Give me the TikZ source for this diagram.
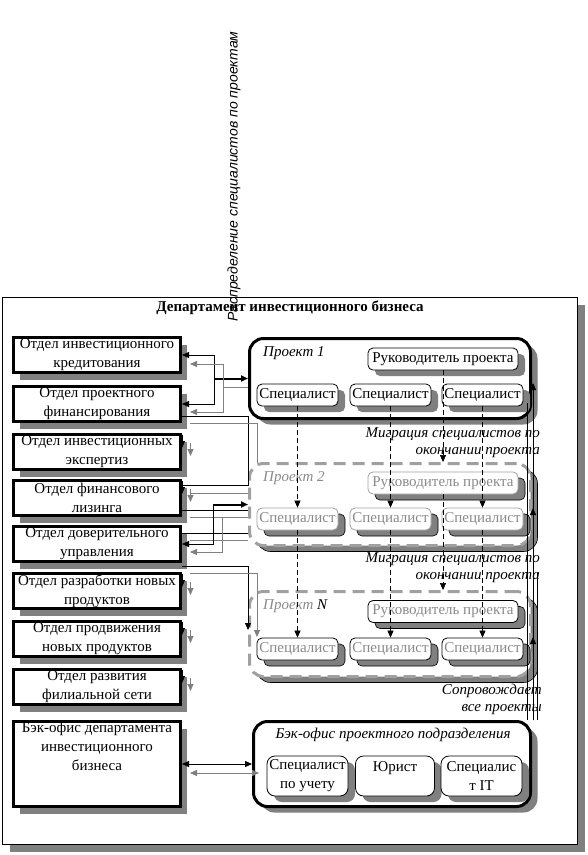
\documentclass[tikz,border=0pt]{standalone}
\usepackage{fontspec}
\setmainfont{Liberation Serif}
\newfontfamily\vsans{Liberation Sans}
\usetikzlibrary{arrows.meta,shadows}
\definecolor{shd}{HTML}{808080}
\definecolor{gln}{HTML}{808080}
\definecolor{gtx}{HTML}{8A8A8A}
\definecolor{gbd}{HTML}{A0A0A0}
\newcommand\bxf{\fontsize{15}{19}\selectfont}
\newcommand\itf{\itshape\fontsize{15}{17}\selectfont}
\newcommand\ttlf{\bfseries\fontsize{15}{18}\selectfont}
\tikzset{
  shA/.style={drop shadow={shadow xshift=6pt, shadow yshift=-7pt, fill=shd, opacity=1}},
  shB/.style={drop shadow={shadow xshift=7pt, shadow yshift=-6pt, fill=shd, draw=black, line width=0.6pt, solid, opacity=1}},
  shC/.style={drop shadow={shadow xshift=7pt, shadow yshift=-6pt, fill=shd, opacity=1}},
  lbox/.style={draw, line width=3pt, fill=white, minimum width=167pt, minimum height=35pt, align=center, font=\bxf, inner sep=0pt, shA},
  pbox/.style={draw, line width=3pt, rounded corners=14pt, fill=white, minimum width=281pt, inner sep=0pt},
  pdash/.style={pbox, draw=gbd, dash pattern=on 12pt off 7pt},
  ibox/.style={draw, line width=0.8pt, rounded corners=5pt, fill=white, font=\bxf, inner sep=0pt, minimum height=22pt, minimum width=81pt},
  blk/.style={draw=black, line width=0.8pt},
  gry/.style={draw=gln, line width=0.8pt},
  thk/.style={draw=black, line width=2pt},
  mig/.style={draw=black, line width=0.7pt, dash pattern=on 5pt off 3pt},
}
\begin{document}
\begin{tikzpicture}[x=1pt,y=-1pt,>={Triangle[length=7pt,width=6pt]}]
\useasboundingbox (0,0) rectangle (588,855);
\node[draw, line width=0.8pt, fill=white, minimum width=575pt, minimum height=547pt, drop shadow={shadow xshift=7pt, shadow yshift=-7pt, fill=shd, opacity=1}] (outer) at (290,571) {};
\node[rotate=90, anchor=west, inner sep=0pt, font=\vsans\itshape\fontsize{14}{16}\selectfont] (vt) at (234,322) {Распределение специалистов по проектам};
\node[font=\ttlf, inner sep=0pt] (ttl) at (290,308) {Департамент инвестиционного бизнеса};

% left column
\node[lbox] (b1) at (97,355) {Отдел инвестиционного\\кредитования};
\node[lbox] (b2) at (97,404) {Отдел проектного\\финансирования};
\node[lbox] (b3) at (97,452) {Отдел инвестиционных\\экспертиз};
\node[lbox] (b4) at (97,498) {Отдел финансового\\лизинга};
\node[lbox] (b5) at (97,544) {Отдел доверительного\\управления};
\node[lbox] (b6) at (97,591) {Отдел разработки новых\\продуктов};
\node[lbox] (b7) at (97,639) {Отдел продвижения\\новых продуктов};
\node[lbox] (b8) at (97,687) {Отдел развития\\филиальной сети};
\node[lbox, minimum height=85pt] (b9) at (97,764) {};
\node[font=\bxf, align=center, anchor=north, inner sep=0pt] (b9t) at (97,722) {Бэк-офис департамента\\инвестиционного\\бизнеса};

% projects
\node[pbox, minimum height=80pt, shC] (p1) at (390,378.5) {};
\node[pdash, minimum height=82pt, shB] (p2) at (390,504.5) {};
\node[pdash, minimum height=85pt, shB] (pN) at (390,634) {};
\node[pbox, minimum width=277pt, minimum height=85pt, shC] (bo) at (392,764) {};

\node[anchor=base west, font=\itf, inner sep=0pt] (p1l) at (263,356) {Проект 1};
\node[anchor=base west, font=\itf, inner sep=0pt, text=gtx] (p2l) at (263,481) {Проект 2};
\node[anchor=base west, font=\itf, inner sep=0pt] (pNl) at (263,609) {\textcolor{gtx}{Проект} N};

\node[ibox, minimum width=150pt, shC] (r1) at (443,359) {Руководитель проекта};
\node[ibox, shC] (s11) at (297.5,395) {Специалист};
\node[ibox, shC] (s12) at (390.5,395) {Специалист};
\node[ibox, shC] (s13) at (482.5,395) {Специалист};

\node[ibox, minimum width=150pt, draw=gbd, text=gtx, shB] (r2) at (443,483) {Руководитель проекта};
\node[ibox, draw=gbd, text=gtx, shB] (s21) at (297.5,519) {Специалист};
\node[ibox, draw=gbd, text=gtx, shB] (s22) at (390.5,519) {Специалист};
\node[ibox, draw=gbd, text=gtx, shB] (s23) at (482.5,519) {Специалист};

\node[ibox, minimum width=150pt, text=gtx, shB] (rN) at (443,611.5) {Руководитель проекта};
\node[ibox, text=gtx, shB] (sN1) at (297.5,649) {Специалист};
\node[ibox, text=gtx, shB] (sN2) at (390.5,649) {Специалист};
\node[ibox, text=gtx, shB] (sN3) at (482.5,649) {Специалист};

\node[font=\itf, inner sep=0pt] (bot) at (393,735) {Бэк-офис проектного подразделения};
\node[ibox, rounded corners=8pt, minimum height=40pt, align=center, shC] (bo1) at (307.5,776) {Специалист\\по учету};
\node[ibox, rounded corners=8pt, minimum height=40pt, minimum width=79pt, align=center, shC] (bo2) at (395,776) {Юрист\\~};
\node[ibox, rounded corners=8pt, minimum height=40pt, align=center, shC] (bo3) at (481.5,776) {Специалис\\т IT};

% texts
\node[anchor=north east, align=right, font=\itf, inner sep=0pt] (m1) at (540,427) {Миграция специалистов по\\окончании проекта};
\node[anchor=north east, align=right, font=\itf, inner sep=0pt] (m2) at (540,552) {Миграция специалистов по\\окончании проекта};
\node[anchor=north east, align=right, font=\itf, inner sep=0pt] (m3) at (542,684) {Сопровождает\\все проекты};

% connectors group 1
\coordinate (j1) at (214,378.5);
\draw[blk,->] (j1) |- (b1.east);
\draw[blk,->] (j1) |- (b2.east);
\draw[thk,->] (j1) -- (p1.west);
\coordinate (j2) at (223,387);
\draw[gry,->] (j2) |- ([xshift=8pt,yshift=-9pt]b1.east);
\draw[gry,->] (j2) |- ([xshift=8pt,yshift=-8pt]b2.east);
\draw[gry] (j2) -- (p1.west |- j2);

\draw[blk] ([yshift=-12pt]b2.east) -- (248,416) -- (248,485) -- ([yshift=13pt]b4.east);
\draw[gry] ([xshift=8pt,yshift=-19pt]b2.east) -- (257,423) -- (257,463);

% group 2
\draw[gry] ([xshift=8pt,yshift=5pt]b4.east) -- (248,493);
\draw[blk] ([yshift=-12pt]b4.east) -- (248,510);
\draw[gry] ([xshift=8pt,yshift=-19pt]b4.east) -- (248,517);
\draw[blk] ([yshift=11pt]b5.east) -- (248,533);
\draw[gry] ([xshift=8pt,yshift=4pt]b5.east) -- (248,540);
\coordinate (j3) at (213,504.5);
\draw[thk,->] (j3) -- (p2.west);
\draw[blk,->] (j3) |- (b5.east);
\coordinate (j4) at (222,517);
\draw[gry,->] (j4) |- ([xshift=8pt,yshift=-8pt]b5.east);

% group 3
\draw[blk,->] ([yshift=-22pt]b5.east) -- (248,566) -- (248,630);
\draw[gry,->] ([xshift=8pt,yshift=-29pt]b5.east) -- (257,573) -- (257,637);

\foreach \b in {b3,b4,b6,b7,b8}{
  \draw[blk,->] ([yshift=-2pt]\b.north east) -- ([yshift=-15pt]\b.north east);
  \draw[gry,->] ([xshift=8.5pt,yshift=-10pt]\b.north east) -- ([xshift=8.5pt,yshift=-23pt]\b.north east);
}

% back office
\draw[blk,<->] (b9.east) -- (bo.west);
\draw[gry,<->] ([xshift=8pt,yshift=-9pt]b9.east) -- ([xshift=7pt,yshift=-9pt]bo.west);

% migration
\draw[mig,->] (s11.south) -- (s21.north);
\draw[mig,->] (s12.south) -- (s22.north);
\draw[mig,->] (s13.south) -- (s23.north);
\draw[mig,->] (s21.south) -- (sN1.north);
\draw[mig,->] (s22.south) -- (sN2.north);
\draw[mig,->] (s23.south) -- (sN3.north);
\draw[mig,->] (r1.south) -- (r1.south |- p2.north);
\draw[mig,->] (r2.south) -- (r2.south |- pN.north);

% support lines
\coordinate (sa) at (533,383);
\coordinate (sb) at (533,508);
\coordinate (sc) at (533,637);
\draw[blk,->] (bo.north -| sa) -- (sa);
\draw[blk,->] (bo.north -| sb) -- (sb);
\draw[blk,->] (bo.north -| sc) -- (sc);
\draw[blk] (bo.north -| 527,0) -- (527,403);
\draw[blk] (bo.north -| 537,0) -- (537,573);
\end{tikzpicture}
\end{document}
